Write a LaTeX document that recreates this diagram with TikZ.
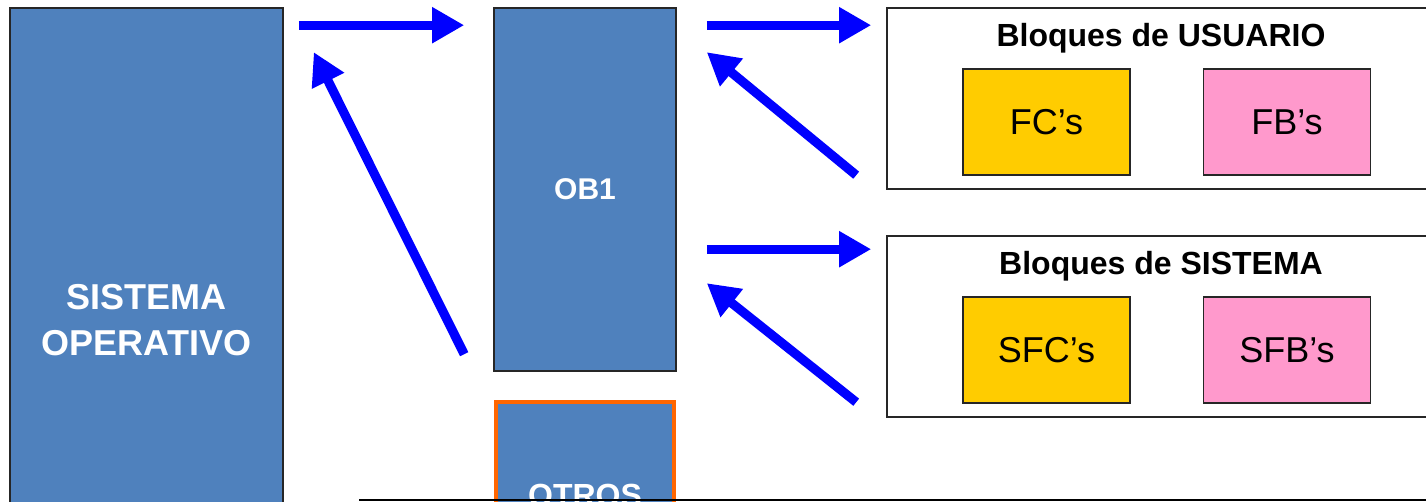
\documentclass[tikz,border=0pt]{standalone}
\usepackage{fontspec}
\setmainfont{Liberation Sans}
\usetikzlibrary{arrows.meta}
\definecolor{obblue}{RGB}{79,129,189}
\definecolor{fcyellow}{RGB}{255,204,0}
\definecolor{fbpink}{RGB}{255,153,204}
\definecolor{otrosorange}{RGB}{255,102,0}
\tikzset{
  obbox/.style={draw=black!85, line width=0.8pt, fill=obblue, text=white,
    font=\fontsize{15}{18}\selectfont\bfseries, inner sep=0pt, align=center},
  groupbox/.style={draw=black!85, line width=0.8pt, fill=white,
    minimum width=276.5pt, minimum height=90.5pt, inner sep=0pt},
  grouptitle/.style={font=\fontsize{16}{19}\selectfont\bfseries, inner sep=0pt},
  fnbox/.style={draw=black!85, line width=0.8pt, minimum width=83.5pt,
    minimum height=53pt, inner sep=0pt, font=\fontsize{18}{21}\selectfont},
  flow/.style={draw=blue, line width=4.6pt, -{Triangle[length=16pt,width=17pt]}},
}
\newcommand{\bloques}[5]{% name, top, title, left, right
  \node[groupbox] (#1) at (1163.5, #2+90.5) {};
  \node[grouptitle] (#1-title) at (1161, #2+30) {#3};
  \node[fnbox, fill=fcyellow] (#1-left) at (1046.5, #2+114) {#4};
  \node[fnbox, fill=fbpink] (#1-right) at (1287, #2+114) {#5};
}

\begin{document}
\begin{tikzpicture}[x=0.5pt, y=-0.5pt]
\useasboundingbox (0,0) rectangle (1426,502);
\clip (0,0) rectangle (1426,502);

\node[obbox, minimum width=136.5pt, minimum height=312pt,
  font=\fontsize{18}{23}\selectfont\bfseries] (so) at (146.5,320) {SISTEMA\\OPERATIVO};
\node[obbox, minimum width=91pt, minimum height=181.5pt] (ob1) at (585,189.5) {OB1};
\node[obbox, draw=otrosorange, line width=2pt, minimum width=89pt, minimum height=93pt,
  font=\fontsize{16}{19}\selectfont\bfseries] (otros) at (585,495) {OTROS};

\bloques{usuario}{8}{Bloques de USUARIO}{FC’s}{FB’s}
\bloques{sistema}{236}{Bloques de SISTEMA}{SFC’s}{SFB’s}

% llamadas
\draw[flow] ([shift={(15,18)}]so.north east) -- ([shift={(-29,18)}]ob1.north west);
\draw[flow] ([shift={(-29,347)}]ob1.north west) -- ([shift={(30,45)}]so.north east);
\draw[flow] ([shift={(30,18)}]ob1.north east) -- ([shift={(-15,18)}]usuario.north west);
\draw[flow] ([shift={(-30,168)}]usuario.north west) -- ([shift={(30,45)}]ob1.north east);
\draw[flow] ([shift={(30,14)}]ob1.north east |- sistema.north west) -- ([shift={(-15,14)}]sistema.north west);
\draw[flow] ([shift={(-30,167)}]sistema.north west) -- ([shift={(30,276)}]ob1.north east);

\draw[line width=1pt] (359,500) -- (1426,500);
\end{tikzpicture}
\end{document}
